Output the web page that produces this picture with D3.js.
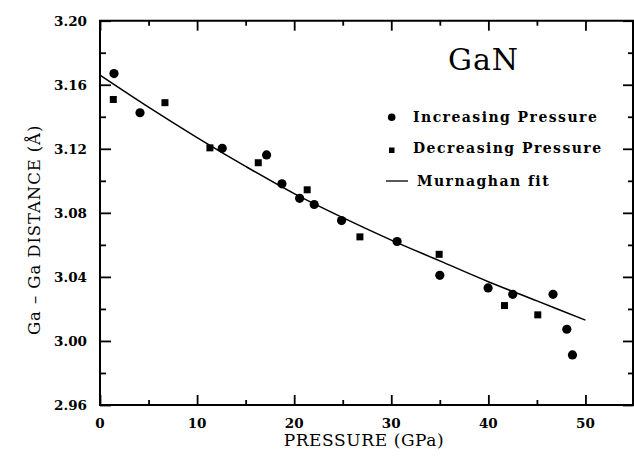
<!DOCTYPE html>
<html>
<head>
<meta charset="utf-8">
<script src="https://cdn.jsdelivr.net/npm/d3@7"></script>
<style>
  html, body { margin: 0; padding: 0; background: #fff; }
  svg { display: block; }
</style>
</head>
<body>
<svg id="chart" width="634" height="456"></svg>
<script>
// Ga–Ga distance in GaN versus pressure
const increasingP = [1.44, 4.12, 12.59, 17.16, 18.74, 20.56, 22.06, 24.88, 30.60, 35.00, 39.97, 42.51, 46.66, 48.08, 48.66];
const increasingD = [3.1670, 3.1425, 3.1203, 3.1162, 3.0981, 3.0891, 3.0852, 3.0752, 3.0621, 3.0410, 3.0331, 3.0291, 3.0291, 3.0073, 2.9913];

const decreasingP = [1.37, 6.69, 11.32, 16.30, 21.34, 26.77, 34.93, 41.66, 45.09];
const decreasingD = [3.1508, 3.1488, 3.1206, 3.1113, 3.0944, 3.0650, 3.0541, 3.0221, 3.0163];

const fitP = [0, 5, 10, 15, 20, 25, 30, 35, 40, 45, 50];
const fitD = [3.166, 3.146, 3.127, 3.109, 3.092, 3.077, 3.063, 3.050, 3.037, 3.025, 3.013];

const xTicks = [0, 10, 20, 30, 40, 50];
const yTicks = [2.96, 3.00, 3.04, 3.08, 3.12, 3.16, 3.20];
const legendLabels = ["Increasing Pressure", "Decreasing Pressure", "Murnaghan fit"];

const svg = d3.select("#chart");
const plotL = 100, plotR = 634, plotT = 20.7, plotB = 405;

const x = d3.scaleLinear().domain([0, 55]).range([plotL, plotR]);
const y = d3.scaleLinear().domain([2.96, 3.20]).range([plotB, plotT]);

const serif = "'DejaVu Serif', 'Liberation Serif', serif";

// minor + major ticks, pointing inward on all four sides
const xMinor = d3.range(0, 55.01, 5);
const yMinor = d3.range(0, 13).map(i => 2.96 + i * 0.02);
const isMajorX = v => Math.abs(v % 10) < 1e-6;
const isMajorY = v => Math.round(v * 100) % 4 === 0;

const axisG = svg.append("g").attr("stroke", "#000").attr("fill", "none");

function tickAxis(scale, orient, values, majorFn, majorLen, minorLen) {
  const ax = (orient === "bottom" ? d3.axisBottom(scale)
            : orient === "top" ? d3.axisTop(scale)
            : orient === "left" ? d3.axisLeft(scale) : d3.axisRight(scale))
    .tickValues(values).tickFormat("").tickSizeOuter(0).tickSizeInner(-minorLen);
  const g = axisG.append("g");
  const tr = orient === "bottom" ? `translate(0,${plotB})`
           : orient === "top" ? `translate(0,${plotT})`
           : orient === "left" ? `translate(${plotL},0)` : `translate(${plotR - 1},0)`;
  g.attr("transform", tr).call(ax);
  g.select(".domain").remove();
  g.selectAll(".tick line")
    .attr("stroke", "#000").attr("stroke-width", 1.8)
    .each(function(d) {
      const len = majorFn(d) ? majorLen : minorLen;
      const el = d3.select(this);
      if (orient === "bottom") el.attr("y2", -len);
      if (orient === "top") el.attr("y2", len);
      if (orient === "left") el.attr("x2", len);
      if (orient === "right") el.attr("x2", -len);
    });
  return g;
}

tickAxis(x, "bottom", xMinor, isMajorX, 10, 5);
tickAxis(x, "top", xMinor, isMajorX, 10, 5);
tickAxis(y, "left", yMinor, isMajorY, 11, 6);
tickAxis(y, "right", yMinor, isMajorY, 10, 5);

// frame
svg.append("path")
  .attr("d", `M${plotL},${plotT}H${plotR - 1}V${plotB}H${plotL}Z`)
  .attr("fill", "none").attr("stroke", "#000").attr("stroke-width", 2);

// tick labels
svg.append("g").selectAll("text").data(xTicks).join("text")
  .attr("x", d => x(d)).attr("y", 428)
  .attr("text-anchor", "middle")
  .attr("font-family", serif).attr("font-weight", "bold").attr("font-size", 13.5)
  .text(d => d);

svg.append("g").selectAll("text").data(yTicks).join("text")
  .attr("x", 87).attr("y", d => y(d) + 5)
  .attr("text-anchor", "end")
  .attr("font-family", serif).attr("font-weight", "bold").attr("font-size", 13.5)
  .text(d => d.toFixed(2));

// axis titles
svg.append("text")
  .attr("x", 364).attr("y", 446)
  .attr("text-anchor", "middle")
  .attr("font-family", serif).attr("font-size", 17).attr("letter-spacing", 0.6)
  .text("PRESSURE (GPa)");

svg.append("text")
  .attr("transform", `translate(40,${(plotT + plotB) / 2 + 17}) rotate(-90)`)
  .attr("text-anchor", "middle")
  .attr("font-family", serif).attr("font-size", 16.5).attr("letter-spacing", 0.9)
  .text("Ga – Ga DISTANCE (Å)");

// Murnaghan fit curve
const line = d3.line()
  .x(d => x(d[0])).y(d => y(d[1]))
  .curve(d3.curveCatmullRom);
svg.append("path")
  .datum(fitP.map((p, i) => [p, fitD[i]]))
  .attr("d", line)
  .attr("fill", "none").attr("stroke", "#000").attr("stroke-width", 1.5);

// data points
svg.append("g").selectAll("circle")
  .data(increasingP.map((p, i) => [p, increasingD[i]]))
  .join("circle")
  .attr("cx", d => x(d[0])).attr("cy", d => y(d[1]))
  .attr("r", 4.6).attr("fill", "#000");

const sq = 7;
svg.append("g").selectAll("rect")
  .data(decreasingP.map((p, i) => [p, decreasingD[i]]))
  .join("rect")
  .attr("x", d => x(d[0]) - sq / 2).attr("y", d => y(d[1]) - sq / 2)
  .attr("width", sq).attr("height", sq).attr("fill", "#000");

// label and legend
svg.append("text")
  .attr("x", 448).attr("y", 70)
  .attr("font-family", serif).attr("font-size", 30).attr("letter-spacing", 1)
  .text("GaN");

const legend = svg.append("g")
  .attr("font-family", serif).attr("font-weight", "bold").attr("font-size", 14)
  .attr("letter-spacing", 1.45);
legend.append("circle").attr("cx", 391.7).attr("cy", 117.3).attr("r", 3.8).attr("fill", "#000");
legend.append("rect").attr("x", 389).attr("y", 147.5).attr("width", 5.5).attr("height", 5.5).attr("fill", "#000");
legend.append("line").attr("x1", 386).attr("x2", 408).attr("y1", 181).attr("y2", 181)
  .attr("stroke", "#000").attr("stroke-width", 1.3);
legend.append("text").attr("x", 413).attr("y", 122).text(legendLabels[0]);
legend.append("text").attr("x", 413).attr("y", 153).text(legendLabels[1]);
legend.append("text").attr("x", 417).attr("y", 186).text(legendLabels[2]);
</script>
</body>
</html>
